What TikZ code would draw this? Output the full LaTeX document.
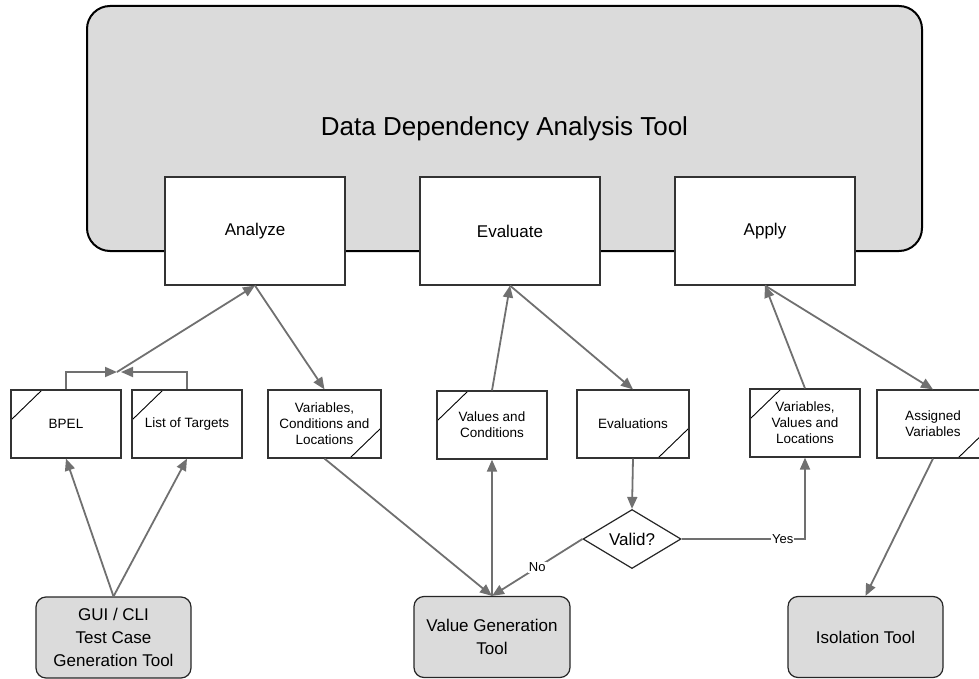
\documentclass[tikz,border=0pt]{standalone}
\usepackage{fontspec}
\setmainfont{Liberation Sans}
\usetikzlibrary{arrows.meta,shapes.geometric}

\begin{document}
\begin{tikzpicture}[x=1pt, y=-1pt]
		\tikzstyle{tool}=[draw=black!85, line width=1.2pt, fill=black!14, rounded corners=10pt, align=center, minimum width=155pt, minimum height=81pt, font=\fontsize{17}{23}\selectfont];
		\tikzstyle{phase}=[draw=black!80, line width=1.2pt, fill=white, minimum width=180pt, minimum height=108pt, font=\fontsize{17}{20}\selectfont];
		\tikzstyle{data}=[draw=black!80, line width=1.2pt, fill=white, minimum width=110pt, minimum height=68pt, inner sep=0pt, align=center, font=\fontsize{13.5}{16}\selectfont];
		\tikzstyle{datain}=[data, path picture={\draw[black, line width=0.9pt] ([xshift=31pt]path picture bounding box.north west) -- ([yshift=-30pt]path picture bounding box.north west);}];
		\tikzstyle{dataout}=[data, path picture={\draw[black, line width=0.9pt] ([xshift=-31pt]path picture bounding box.south east) -- ([yshift=30pt]path picture bounding box.south east);}];
		\tikzstyle{flow}=[draw=black!56, line width=1.8pt, -{Triangle[length=12pt,width=10pt]}];
		\tikzstyle{lbl}=[fill=white, inner sep=1pt, font=\fontsize{13}{15}\selectfont];

		\useasboundingbox (0,0) rectangle (979,679);

		\node[tool, draw=black, line width=2pt, rounded corners=23pt, minimum width=835pt, minimum height=245pt, font=\fontsize{26}{30}\selectfont] (ddat) at (504.5,128.5) {Data Dependency Analysis Tool};

		\node[phase] (analyze) at (255,231) {Analyze};
		\node[phase] (evaluate) at (510,231) {Evaluate};
		\node[phase] (apply) at (765,231) {Apply};

		\node[datain] (bpel) at (66,424) {BPEL};
		\node[datain] (targets) at (187,424) {List of Targets};
		\node[dataout, minimum width=113pt] (vcl) at (324.5,424) {Variables,\\Conditions and\\Locations};
		\node[datain] (values) at (492,425) {Values and\\Conditions};
		\node[dataout, minimum width=112pt] (evaluations) at (633,424) {Evaluations};
		\node[datain] (vvl) at (805,423) {Variables,\\Values and\\Locations};
		\node[dataout, minimum width=112pt] (assigned) at (933,424) {Assigned\\Variables};

		\node[diamond, draw=black!85, line width=1.2pt, fill=white, inner sep=0pt, minimum width=98pt, minimum height=59pt, font=\fontsize{17}{20}\selectfont] (valid) at (632,539) {Valid?};

		\node[tool] (gui) at (113.5,637.5) {GUI / CLI\\Test Case\\Generation Tool};
		\node[tool, minimum width=156pt] (valgen) at (492,637) {Value Generation\\Tool};
		\node[tool] (isolation) at (865.5,637) {Isolation Tool};

		\coordinate (mergeL) at (117,372);
		\coordinate (mergeR) at (121,372);

		\draw[flow] (bpel.north) |- (mergeL);
		\draw[flow] (targets.north) |- (mergeR);
		\draw[flow] (mergeL) -- (analyze.south);
		\draw[flow] (analyze.south) -- (vcl.north);
		\draw[flow] (values.north) -- (evaluate.south);
		\draw[flow] (evaluate.south) -- (evaluations.north);
		\draw[flow] (vvl.north) -- (apply.south);
		\draw[flow] (apply.south) -- (assigned.north);
		\draw[flow] (gui.north) -- (bpel.south);
		\draw[flow] (gui.north) -- (targets.south);
		\draw[flow] (vcl.south) -- (valgen.north);
		\draw[flow] (valgen.north) -- (values.south);
		\draw[flow] (evaluations.south) -- (valid.north);
		\draw[flow] (valid.west) -- node[lbl] {No} (valgen.north);
		\draw[flow] (valid.east) -| node[lbl, pos=0.41] {Yes} (vvl.south);
		\draw[flow] (assigned.south) -- (isolation.north);
	\end{tikzpicture}
\end{document}
